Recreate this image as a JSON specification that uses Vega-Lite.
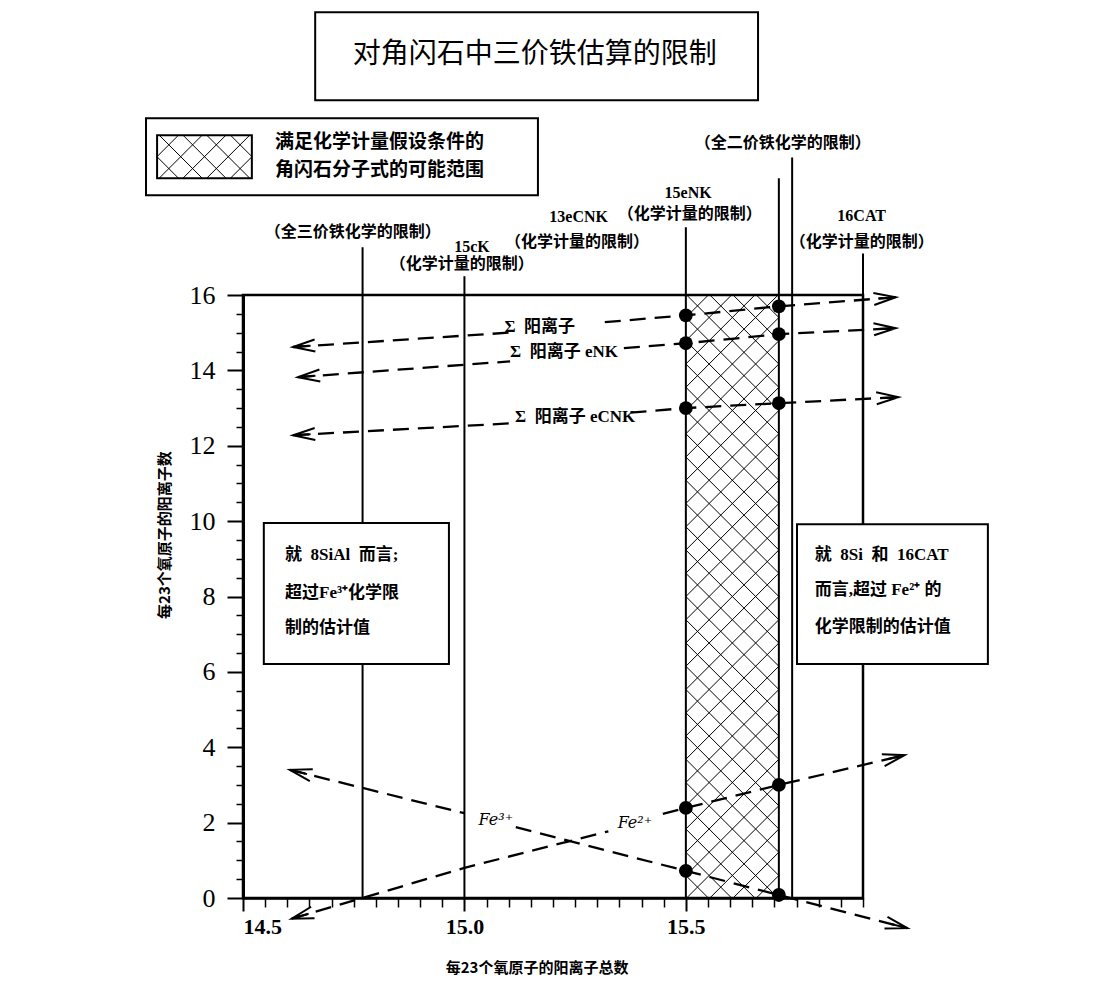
{
  "$schema": "https://vega.github.io/schema/vega-lite/v6.json",
  "width": 620,
  "height": 603,
  "autosize": "none",
  "padding": {"left": 243, "top": 295, "right": 242, "bottom": 86},
  "background": "white",
  "config": {
    "view": {"stroke": "black", "strokeWidth": 2.5},
    "axis": {"grid": false, "domainColor": "black", "tickColor": "black", "labelColor": "black"},
    "text": {"color": "black"}
  },
  "datasets": {
    "vlines": [
      {"x": 14.77, "top": 17.27},
      {"x": 15.0, "top": 16.5},
      {"x": 15.5, "top": 17.8},
      {"x": 15.71, "top": 19.1},
      {"x": 15.74, "top": 19.65},
      {"x": 15.9, "top": 17.1}
    ],
    "curves": [
      {"seg": "S1L", "x": 14.613, "y": 14.62}, {"seg": "S1L", "x": 15.1, "y": 15.0},
      {"seg": "S1R", "x": 15.317, "y": 15.28}, {"seg": "S1R", "x": 15.5, "y": 15.46}, {"seg": "S1R", "x": 15.71, "y": 15.7}, {"seg": "S1R", "x": 15.974, "y": 15.94},
      {"seg": "S2L", "x": 14.624, "y": 13.82}, {"seg": "S2L", "x": 15.103, "y": 14.24},
      {"seg": "S2R", "x": 15.36, "y": 14.59}, {"seg": "S2R", "x": 15.5, "y": 14.72}, {"seg": "S2R", "x": 15.71, "y": 14.96}, {"seg": "S2R", "x": 15.974, "y": 15.12},
      {"seg": "S3L", "x": 14.613, "y": 12.28}, {"seg": "S3L", "x": 15.113, "y": 12.6},
      {"seg": "S3R", "x": 15.375, "y": 12.88}, {"seg": "S3R", "x": 15.5, "y": 13.0}, {"seg": "S3R", "x": 15.71, "y": 13.13}, {"seg": "S3R", "x": 15.98, "y": 13.29},
      {"seg": "F3L", "x": 14.606, "y": 3.4}, {"seg": "F3L", "x": 14.77, "y": 2.92}, {"seg": "F3L", "x": 15.0, "y": 2.25},
      {"seg": "F3R", "x": 15.116, "y": 1.88}, {"seg": "F3R", "x": 15.5, "y": 0.72}, {"seg": "F3R", "x": 15.71, "y": 0.08}, {"seg": "F3R", "x": 16.0, "y": -0.8},
      {"seg": "F2L", "x": 14.61, "y": -0.55}, {"seg": "F2L", "x": 14.77, "y": 0.0}, {"seg": "F2L", "x": 15.0, "y": 0.8}, {"seg": "F2L", "x": 15.325, "y": 1.77},
      {"seg": "F2R", "x": 15.448, "y": 2.23}, {"seg": "F2R", "x": 15.5, "y": 2.39}, {"seg": "F2R", "x": 15.71, "y": 3.0}, {"seg": "F2R", "x": 15.994, "y": 3.79}
    ],
    "dots": [
      {"x": 15.5, "y": 15.46}, {"x": 15.5, "y": 14.72}, {"x": 15.5, "y": 13.0},
      {"x": 15.71, "y": 15.7}, {"x": 15.71, "y": 14.96}, {"x": 15.71, "y": 13.13},
      {"x": 15.5, "y": 2.39}, {"x": 15.5, "y": 0.72}, {"x": 15.71, "y": 3.0}, {"x": 15.71, "y": 0.08}
    ],
    "arrows": [
      {"arrow": "S1L", "x": 14.613, "y": 14.62}, {"arrow": "S1R", "x": 15.974, "y": 15.94},
      {"arrow": "S2L", "x": 14.624, "y": 13.82}, {"arrow": "S2R", "x": 15.974, "y": 15.12},
      {"arrow": "S3L", "x": 14.613, "y": 12.28}, {"arrow": "S3R", "x": 15.98, "y": 13.29},
      {"arrow": "F3L", "x": 14.606, "y": 3.4}, {"arrow": "F3R", "x": 16.0, "y": -0.8},
      {"arrow": "F2L", "x": 14.61, "y": -0.55}, {"arrow": "F2R", "x": 15.994, "y": 3.79}
    ],
    "boxes": [
      {"box": "title", "x": 14.663, "x2": 15.663, "y": 21.17, "y2": 23.5},
      {"box": "legend", "x": 14.281, "x2": 15.166, "y": 18.65, "y2": 20.69},
      {"box": "swatch", "x": 14.306, "x2": 14.52, "y": 19.1, "y2": 20.24},
      {"box": "left", "x": 14.547, "x2": 14.965, "y": 6.21, "y2": 9.95},
      {"box": "right", "x": 15.751, "x2": 16.182, "y": 6.21, "y2": 9.92}
    ],
    "hatch": [{"region": "main", "x": 15.605, "y": 8.0}],
    "swatch": [{"region": "swatch", "x": 14.413, "y": 19.67}],
    "texts": [
      {"kind": "title", "x": 15.159, "y": 22.36, "label": "对角闪石中三价铁估算的限制"},
      {"kind": "legend", "x": 14.572, "y": 20.05, "label": "满足化学计量假设条件的"},
      {"kind": "legend", "x": 14.572, "y": 19.31, "label": "角闪石分子式的可能范围"},
      {"kind": "vlabel", "x": 14.748, "y": 17.67, "label": "（全三价铁化学的限制）"},
      {"kind": "vlabel", "x": 15.017, "y": 17.27, "label": "15cK"},
      {"kind": "vlabel", "x": 14.994, "y": 16.82, "label": "（化学计量的限制）"},
      {"kind": "vlabel", "x": 15.258, "y": 18.06, "label": "13eCNK"},
      {"kind": "vlabel", "x": 15.254, "y": 17.4, "label": "（化学计量的限制）"},
      {"kind": "vlabel", "x": 15.505, "y": 18.7, "label": "15eNK"},
      {"kind": "vlabel", "x": 15.509, "y": 18.14, "label": "（化学计量的限制）"},
      {"kind": "vlabel", "x": 15.719, "y": 20.03, "label": "（全二价铁化学的限制）"},
      {"kind": "vlabel", "x": 15.897, "y": 18.09, "label": "16CAT"},
      {"kind": "vlabel", "x": 15.897, "y": 17.4, "label": "（化学计量的限制）"},
      {"kind": "linelabel", "x": 15.17, "y": 15.15, "label": "Σ\u00a0\u00a0阳离子"},
      {"kind": "linelabel", "x": 15.225, "y": 14.48, "label": "Σ\u00a0\u00a0阳离子\u00a0eNK"},
      {"kind": "linelabel", "x": 15.25, "y": 12.76, "label": "Σ\u00a0\u00a0阳离子\u00a0eCNK"},
      {"kind": "felabel", "x": 15.071, "y": 2.07, "label": "Fe³⁺"},
      {"kind": "felabel", "x": 15.385, "y": 1.98, "label": "Fe²⁺"},
      {"kind": "boxtext", "x": 14.595, "y": 9.1, "label": "就\u00a0\u00a08SiAl\u00a0\u00a0而言;"},
      {"kind": "boxtext", "x": 14.595, "y": 8.09, "label": "超过Fe³⁺化学限"},
      {"kind": "boxtext", "x": 14.595, "y": 7.16, "label": "制的估计值"},
      {"kind": "boxtext", "x": 15.791, "y": 9.1, "label": "就\u00a0\u00a08Si\u00a0\u00a0和\u00a0\u00a016CAT"},
      {"kind": "boxtext", "x": 15.791, "y": 8.17, "label": "而言,超过\u00a0Fe²⁺\u00a0的"},
      {"kind": "boxtext", "x": 15.791, "y": 7.19, "label": "化学限制的估计值"},
      {"kind": "ytitle", "x": 14.324, "y": 9.63, "label": "每23个氧原子的阳离子数"},
      {"kind": "xtitle", "x": 15.164, "y": -1.86, "label": "每23个氧原子的阳离子总数"}
    ]
  },
  "resolve": {"axis": {"x": "independent", "y": "independent"}},
  "layer": [
    {
      "data": {"name": "vlines"},
      "mark": {"type": "rule", "color": "black", "strokeWidth": 2},
      "encoding": {
        "x": {"field": "x", "type": "quantitative",
          "scale": {"domain": [14.5, 15.9], "nice": false, "zero": false},
          "axis": {"orient": "bottom", "values": [14.5, 15.0, 15.5], "format": ".1f", "labelFont": "Liberation Serif", "labelFontSize": 22, "labelFontWeight": "bold", "tickSize": 13, "tickWidth": 2, "domainWidth": 2.5, "labelPadding": 5, "title": null}},
        "y": {"field": "top", "type": "quantitative",
          "scale": {"domain": [0, 16], "nice": false, "zero": false},
          "axis": {"orient": "left", "values": [0, 2, 4, 6, 8, 10, 12, 14, 16], "labelFont": "Liberation Serif", "labelFontSize": 26, "tickSize": 16, "tickWidth": 2, "domainWidth": 3, "labelPadding": 12, "title": null}},
        "y2": {"datum": 0}
      }
    },
    {
      "data": {"name": "boxes"},
      "mark": {"type": "rect", "fill": "white", "stroke": "black", "strokeWidth": 2},
      "encoding": {
        "x": {"field": "x", "type": "quantitative", "axis": null},
        "x2": {"field": "x2"},
        "y": {"field": "y", "type": "quantitative", "axis": null},
        "y2": {"field": "y2"}
      }
    },
    {
      "data": {"name": "hatch"},
      "mark": {"type": "point", "filled": false, "stroke": "black", "strokeWidth": 1, "opacity": 1, "size": 2162.25,
        "shape": "M-2,-12L2,-8M-2,-11L2,-7M-2,-10L2,-6M-2,-9L2,-5M-2,-8L2,-4M-2,-7L2,-3M-2,-6L2,-2M-2,-5L2,-1M-2,-4L2,0M-2,-3L2,1M-2,-2L2,2M-2,-1L2,3M-2,0L2,4M-2,1L2,5M-2,2L2,6M-2,3L2,7M-2,4L2,8M-2,5L2,9M-2,6L2,10M-2,7L2,11M-2,8L2,12M-2,9L1.97,12.97M-2,10L0.97,12.97M-2,11L-0.03,12.97M-2,12L-1.03,12.97M-1.97,-12.97L2,-9M-0.97,-12.97L2,-10M0.03,-12.97L2,-11M1.03,-12.97L2,-12M-2,-8L2,-12M-2,-7L2,-11M-2,-6L2,-10M-2,-5L2,-9M-2,-4L2,-8M-2,-3L2,-7M-2,-2L2,-6M-2,-1L2,-5M-2,0L2,-4M-2,1L2,-3M-2,2L2,-2M-2,3L2,-1M-2,4L2,0M-2,5L2,1M-2,6L2,2M-2,7L2,3M-2,8L2,4M-2,9L2,5M-2,10L2,6M-2,11L2,7M-2,12L2,8M2,9L-1.97,12.97M2,10L-0.97,12.97M2,11L0.03,12.97M2,12L1.03,12.97M1.97,-12.97L-2,-9M0.97,-12.97L-2,-10M-0.03,-12.97L-2,-11M-1.03,-12.97L-2,-12"},
      "encoding": {
        "x": {"field": "x", "type": "quantitative", "axis": null},
        "y": {"field": "y", "type": "quantitative", "axis": null}
      }
    },
    {
      "data": {"name": "swatch"},
      "mark": {"type": "point", "filled": false, "stroke": "black", "strokeWidth": 1, "opacity": 1, "size": 2256.25,
        "shape": "M1.095,-0.905L2,0M0.095,-0.905L1.905,0.905M-0.905,-0.905L0.905,0.905M-1.905,-0.905L-0.095,0.905M-2,0L-1.095,0.905M-1.095,-0.905L-2,0M-0.095,-0.905L-1.905,0.905M0.905,-0.905L-0.905,0.905M1.905,-0.905L0.095,0.905M2,0L1.095,0.905"},
      "encoding": {
        "x": {"field": "x", "type": "quantitative", "axis": null},
        "y": {"field": "y", "type": "quantitative", "axis": null}
      }
    },
    {
      "data": {"name": "curves"},
      "mark": {"type": "line", "color": "black", "strokeWidth": 2.3, "strokeDash": [16, 9]},
      "encoding": {
        "x": {"field": "x", "type": "quantitative",
          "axis": {"orient": "bottom", "values": [14.55, 14.6, 14.65, 14.7, 14.75, 14.8, 14.85, 14.9, 14.95, 15.05, 15.1, 15.15, 15.2, 15.25, 15.3, 15.35, 15.4, 15.45, 15.55, 15.6, 15.65, 15.7, 15.75, 15.8, 15.85, 15.9], "labels": false, "tickSize": 9, "tickWidth": 1.5, "domain": false, "title": null}},
        "y": {"field": "y", "type": "quantitative",
          "axis": {"orient": "left", "values": [0.5, 1, 1.5, 2.5, 3, 3.5, 4.5, 5, 5.5, 6.5, 7, 7.5, 8.5, 9, 9.5, 10.5, 11, 11.5, 12.5, 13, 13.5, 14.5, 15, 15.5], "labels": false, "tickSize": 7, "tickWidth": 1.5, "domain": false, "title": null}},
        "detail": {"field": "seg", "type": "nominal"}
      }
    },
    {
      "data": {"name": "dots"},
      "mark": {"type": "point", "shape": "circle", "filled": true, "color": "black", "opacity": 1, "size": 190},
      "encoding": {
        "x": {"field": "x", "type": "quantitative", "axis": null},
        "y": {"field": "y", "type": "quantitative", "axis": null}
      }
    },
    {
      "data": {"name": "arrows"},
      "mark": {"type": "point", "filled": false, "stroke": "black", "strokeWidth": 2, "opacity": 1, "size": 484, "shape": "M-2,-0.55L0,0L-2,0.55M-1.6,0L0,0"},
      "encoding": {
        "x": {"field": "x", "type": "quantitative", "axis": null},
        "y": {"field": "y", "type": "quantitative", "axis": null},
        "angle": {"field": "arrow", "type": "nominal", "legend": null,
          "scale": {"type": "ordinal", "domain": ["S1L", "S1R", "S2L", "S2R", "S3L", "S3R", "F3L", "F3R", "F2L", "F2R"], "range": [176.2, 355.6, 175.7, 357.1, 176.9, 357.1, 194, 14.5, 163.7, 346.7]}}
      }
    },
    {
      "data": {"name": "texts"},
      "transform": [{"filter": "datum.kind === 'title'"}],
      "mark": {"type": "text", "font": "Noto Sans CJK SC", "fontSize": 28, "align": "center", "baseline": "middle"},
      "encoding": {
        "x": {"field": "x", "type": "quantitative", "axis": null},
        "y": {"field": "y", "type": "quantitative", "axis": null},
        "text": {"field": "label"}
      }
    },
    {
      "data": {"name": "texts"},
      "transform": [{"filter": "datum.kind === 'legend'"}],
      "mark": {"type": "text", "font": "Noto Sans CJK SC", "fontSize": 19, "fontWeight": "bold", "align": "left", "baseline": "middle"},
      "encoding": {
        "x": {"field": "x", "type": "quantitative", "axis": null},
        "y": {"field": "y", "type": "quantitative", "axis": null},
        "text": {"field": "label"}
      }
    },
    {
      "data": {"name": "texts"},
      "transform": [{"filter": "datum.kind === 'vlabel'"}],
      "mark": {"type": "text", "font": "Liberation Serif, Noto Sans CJK SC", "fontSize": 16, "fontWeight": "bold", "align": "center", "baseline": "middle"},
      "encoding": {
        "x": {"field": "x", "type": "quantitative", "axis": null},
        "y": {"field": "y", "type": "quantitative", "axis": null},
        "text": {"field": "label"}
      }
    },
    {
      "data": {"name": "texts"},
      "transform": [{"filter": "datum.kind === 'linelabel'"}],
      "mark": {"type": "text", "font": "Liberation Serif, Noto Sans CJK SC", "fontSize": 17, "fontWeight": "bold", "align": "center", "baseline": "middle"},
      "encoding": {
        "x": {"field": "x", "type": "quantitative", "axis": null},
        "y": {"field": "y", "type": "quantitative", "axis": null},
        "text": {"field": "label"}
      }
    },
    {
      "data": {"name": "texts"},
      "transform": [{"filter": "datum.kind === 'felabel'"}],
      "mark": {"type": "text", "font": "DejaVu Serif", "fontSize": 16, "fontStyle": "italic", "align": "center", "baseline": "middle"},
      "encoding": {
        "x": {"field": "x", "type": "quantitative", "axis": null},
        "y": {"field": "y", "type": "quantitative", "axis": null},
        "text": {"field": "label"}
      }
    },
    {
      "data": {"name": "texts"},
      "transform": [{"filter": "datum.kind === 'boxtext'"}],
      "mark": {"type": "text", "font": "Liberation Serif, Noto Sans CJK SC", "fontSize": 17, "fontWeight": "bold", "align": "left", "baseline": "middle"},
      "encoding": {
        "x": {"field": "x", "type": "quantitative", "axis": null},
        "y": {"field": "y", "type": "quantitative", "axis": null},
        "text": {"field": "label"}
      }
    },
    {
      "data": {"name": "texts"},
      "transform": [{"filter": "datum.kind === 'ytitle'"}],
      "mark": {"type": "text", "font": "Noto Sans CJK SC", "fontSize": 15, "fontWeight": "bold", "align": "center", "baseline": "middle", "angle": 270},
      "encoding": {
        "x": {"field": "x", "type": "quantitative", "axis": null},
        "y": {"field": "y", "type": "quantitative", "axis": null},
        "text": {"field": "label"}
      }
    },
    {
      "data": {"name": "texts"},
      "transform": [{"filter": "datum.kind === 'xtitle'"}],
      "mark": {"type": "text", "font": "Noto Sans CJK SC", "fontSize": 15, "fontWeight": "bold", "align": "center", "baseline": "middle"},
      "encoding": {
        "x": {"field": "x", "type": "quantitative", "axis": null},
        "y": {"field": "y", "type": "quantitative", "axis": null},
        "text": {"field": "label"}
      }
    }
  ]
}
